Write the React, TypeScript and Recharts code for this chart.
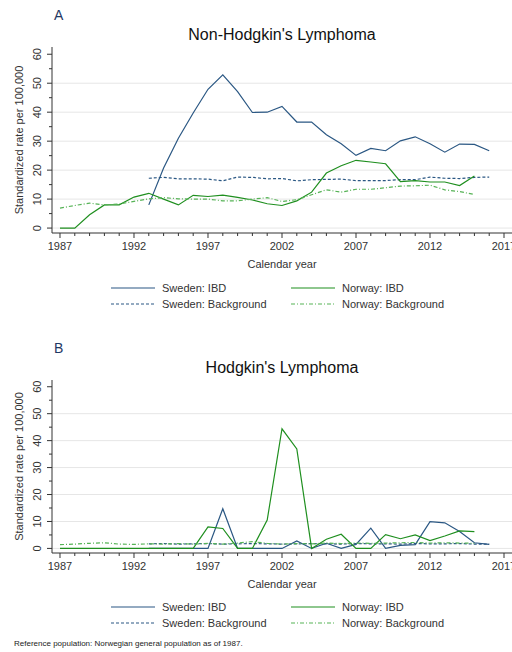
import { CartesianGrid, Line, LineChart, XAxis, YAxis } from "recharts";

const years = [
  1987, 1988, 1989, 1990, 1991, 1992, 1993, 1994, 1995, 1996, 1997, 1998, 1999, 2000, 2001,
  2002, 2003, 2004, 2005, 2006, 2007, 2008, 2009, 2010, 2011, 2012, 2013, 2014, 2015, 2016
];
const yearTicks = [
  1987, 1988, 1989, 1990, 1991, 1992, 1993, 1994, 1995, 1996, 1997, 1998, 1999, 2000, 2001,
  2002, 2003, 2004, 2005, 2006, 2007, 2008, 2009, 2010, 2011, 2012, 2013, 2014, 2015, 2016, 2017
];
const rateTicks = [0, 5, 10, 15, 20, 25, 30, 35, 40, 45, 50, 55, 60];
const gridValues = [0, 10, 20, 30, 40, 50];

// Non-Hodgkin's lymphoma
const nhlSwedenIbd = [
  null, null, null, null, null, null, 8.0, 20.7, 31, 39.7, 47.9, 52.9, 47.1, 39.9, 40,
  42, 36.6, 36.6, 32.2, 29.1, 25.1, 27.5, 26.7, 30.1, 31.5, 29.1, 26.2, 29, 28.9, 26.7
];
const nhlSwedenBg = [
  null, null, null, null, null, null, 17.2, 17.5, 17, 17, 16.9, 16.3, 17.6, 17.5, 17,
  17.1, 16.3, 16.7, 16.8, 16.9, 16.4, 16.4, 16.4, 16.7, 16.7, 17.6, 17.2, 17.1, 17.5, 17.6
];
const nhlNorwayIbd = [
  0, 0, 4.6, 8, 8, 10.7, 12, 10, 8, 11.3, 10.9, 11.4, 10.6, 9.7, 8.4,
  7.8, 9.4, 12.4, 19, 21.5, 23.4, 22.8, 22.2, 16, 16.4, 15.9, 15.9, 14.7, 18, null
];
const nhlNorwayBg = [
  6.9, 7.8, 8.6, 8, 8.3, 9.2, 10.1, 10.5, 10.1, 10, 10, 9.4, 9.4, 10, 10.5,
  9.2, 9.8, 11.5, 13.2, 12.4, 13.4, 13.4, 13.9, 14.5, 14.6, 14.8, 13.2, 12.6, 11.6, null
];

// Hodgkin's lymphoma
const hlSwedenIbd = [
  null, null, null, null, null, null, 0, 0, 0, 0, 0, 14.75, 0, 0, 0,
  0, 2.75, 0, 1.9, 0, 1.5, 7.5, 0, 1.1, 1.4, 9.9, 9.5, 6.25, 2.1, 1.5
];
const hlSwedenBg = [
  null, null, null, null, null, null, 1.7, 1.8, 1.6, 1.7, 1.8, 1.6, 1.7, 1.8, 1.7,
  1.6, 1.7, 1.8, 1.7, 1.6, 1.8, 1.7, 1.7, 1.6, 1.8, 1.7, 1.7, 1.8, 1.6, 1.6
];
const hlNorwayIbd = [
  0, 0, 0, 0, 0, 0, 0, 0, 0, 0, 8, 7.4, 0, 0, 10.5,
  44.4, 36.9, 0, 3.4, 5.25, 0, 0, 5.1, 3.6, 5, 2.9, 4.6, 6.5, 6.25, null
];
const hlNorwayBg = [
  1.4, 1.6, 1.9, 2.1, 1.6, 1.5, 1.7, 1.6, 1.8, 1.6, 1.9, 1.6, 2.0, 2.5, 1.9,
  1.6, 1.8, 1.7, 2.0, 1.8, 2.0, 1.9, 2.0, 2.1, 2.2, 2.0, 2.1, 2.0, 1.9, null
];

const SWE = "#2a5783";
const NOR = "#1f8f1f";
const NOR_BG = "#56b356";
const AXIS = "#333333";
const FONT = '"Liberation Sans", Arial, sans-serif';

function buildRows(sweIbd: any[], sweBg: any[], norIbd: any[], norBg: any[]) {
  return years.map((year, i) => ({
    year,
    sweIbd: sweIbd[i],
    sweBg: sweBg[i],
    norIbd: norIbd[i],
    norBg: norBg[i]
  }));
}

function YearTick(props: any) {
  const { x, y, payload } = props;
  const major = (payload.value - 1987) % 5 === 0;
  return (
    <g>
      <line x1={x} x2={x} y1={y} y2={y + (major ? 5 : 3)} stroke={AXIS} />
      {major && (
        <text x={x} y={y + 17} textAnchor="middle" fontSize={11} fill={AXIS} fontFamily={FONT}>
          {payload.value}
        </text>
      )}
    </g>
  );
}

function RateTick(props: any) {
  const { x, y, payload } = props;
  const major = payload.value % 10 === 0;
  return (
    <g>
      <line x1={x - (major ? 5 : 3)} x2={x} y1={y} y2={y} stroke={AXIS} />
      {major && (
        <text
          transform={`translate(${x - 11},${y}) rotate(-90)`}
          textAnchor="middle"
          fontSize={11}
          fill={AXIS}
          fontFamily={FONT}
        >
          {payload.value}
        </text>
      )}
    </g>
  );
}

function RateTitle(props: any) {
  const { viewBox } = props;
  const cx = viewBox.x + 7;
  const cy = viewBox.y + viewBox.height / 2;
  return (
    <text
      transform={`translate(${cx},${cy}) rotate(-90)`}
      textAnchor="middle"
      dominantBaseline="central"
      fontSize={11}
      fill={AXIS}
      fontFamily={FONT}
    >
      Standardized rate per 100,000
    </text>
  );
}

function YearTitle(props: any) {
  const { viewBox } = props;
  return (
    <text
      x={viewBox.x + viewBox.width / 2}
      y={viewBox.y + 35}
      textAnchor="middle"
      fontSize={11}
      fill={AXIS}
      fontFamily={FONT}
    >
      Calendar year
    </text>
  );
}

function LegendRow({ top }: { top: number }) {
  const item = (left: number, label: string, color: string, dash?: string) => (
    <div style={{ position: "absolute", left, top: 0, display: "flex", alignItems: "center" }}>
      <svg width={44} height={4} style={{ display: "block" }}>
        <line x1={0} x2={44} y1={2} y2={2} stroke={color} strokeWidth={1.2} strokeDasharray={dash} />
      </svg>
      <span style={{ marginLeft: 7, fontSize: 11, color: AXIS, whiteSpace: "nowrap" }}>{label}</span>
    </div>
  );
  return (
    <div style={{ position: "absolute", left: 0, top, width: 512, height: 40, fontFamily: FONT }}>
      <div style={{ position: "absolute", left: 0, top: -6, width: 512, height: 14 }}>
        {item(111, "Sweden: IBD", SWE)}
        {item(291, "Norway: IBD", NOR)}
      </div>
      <div style={{ position: "absolute", left: 0, top: 10, width: 512, height: 14 }}>
        {item(111, "Sweden: Background", SWE, "3 2")}
        {item(291, "Norway: Background", NOR_BG, "4 2 1 2")}
      </div>
    </div>
  );
}

function Panel({
  top,
  height,
  bottom,
  letter,
  title,
  rows
}: {
  top: number;
  height: number;
  bottom: number;
  letter: string;
  title: string;
  rows: any[];
}) {
  return (
    <div style={{ position: "absolute", left: 0, top, width: 512, height }}>
      <div
        style={{
          position: "absolute",
          left: 54,
          top: 7,
          fontSize: 14,
          color: "#1f3864",
          fontFamily: FONT,
          lineHeight: "16px"
        }}
      >
        {letter}
      </div>
      <div
        style={{
          position: "absolute",
          left: 52,
          top: 26,
          width: 460,
          textAlign: "center",
          fontSize: 16,
          color: "#111",
          fontFamily: FONT,
          lineHeight: "18px"
        }}
      >
        {title}
      </div>
      <LineChart
        width={512}
        height={height}
        data={rows}
        margin={{ top: 47, right: 0, left: 12, bottom }}
        style={{ position: "absolute", left: 0, top: 0 }}
      >
        <CartesianGrid vertical={false} horizontalValues={gridValues} stroke="#e6e6e6" />
        <XAxis
          dataKey="year"
          type="number"
          domain={[1986.46, 2017.54]}
          allowDataOverflow
          ticks={yearTicks}
          interval={0}
          height={40}
          tickSize={0}
          tickMargin={0}
          tickLine={false}
          axisLine={{ stroke: AXIS }}
          tick={<YearTick />}
          label={<YearTitle />}
        />
        <YAxis
          type="number"
          domain={[-1.7, 62.5]}
          allowDataOverflow
          ticks={rateTicks}
          interval={0}
          width={40}
          tickSize={0}
          tickMargin={0}
          tickLine={false}
          axisLine={{ stroke: AXIS }}
          tick={<RateTick />}
          label={<RateTitle />}
        />
        <Line dataKey="sweIbd" stroke={SWE} strokeWidth={1.2} dot={false} isAnimationActive={false} />
        <Line dataKey="sweBg" stroke={SWE} strokeWidth={1.2} strokeDasharray="3 2" dot={false} isAnimationActive={false} />
        <Line dataKey="norIbd" stroke={NOR} strokeWidth={1.2} dot={false} isAnimationActive={false} />
        <Line dataKey="norBg" stroke={NOR_BG} strokeWidth={1.2} strokeDasharray="4 2 1 2" dot={false} isAnimationActive={false} />
      </LineChart>
    </div>
  );
}

export default function App() {
  const nhlRows = buildRows(nhlSwedenIbd, nhlSwedenBg, nhlNorwayIbd, nhlNorwayBg);
  const hlRows = buildRows(hlSwedenIbd, hlSwedenBg, hlNorwayIbd, hlNorwayBg);
  return (
    <div
      style={{
        position: "absolute",
        left: 0,
        top: 0,
        width: 512,
        height: 652,
        overflow: "hidden",
        background: "#fff",
        fontFamily: FONT
      }}
    >
      <Panel top={0} height={280} bottom={7} letter="A" title="Non-Hodgkin's Lymphoma" rows={nhlRows} />
      <LegendRow top={288} />
      <Panel top={333} height={270} bottom={10} letter="B" title="Hodgkin's Lymphoma" rows={hlRows} />
      <LegendRow top={607} />
      <div style={{ position: "absolute", left: 14, top: 639, fontSize: 8, color: "#222", fontFamily: FONT }}>
        Reference population: Norwegian general population as of 1987.
      </div>
    </div>
  );
}
